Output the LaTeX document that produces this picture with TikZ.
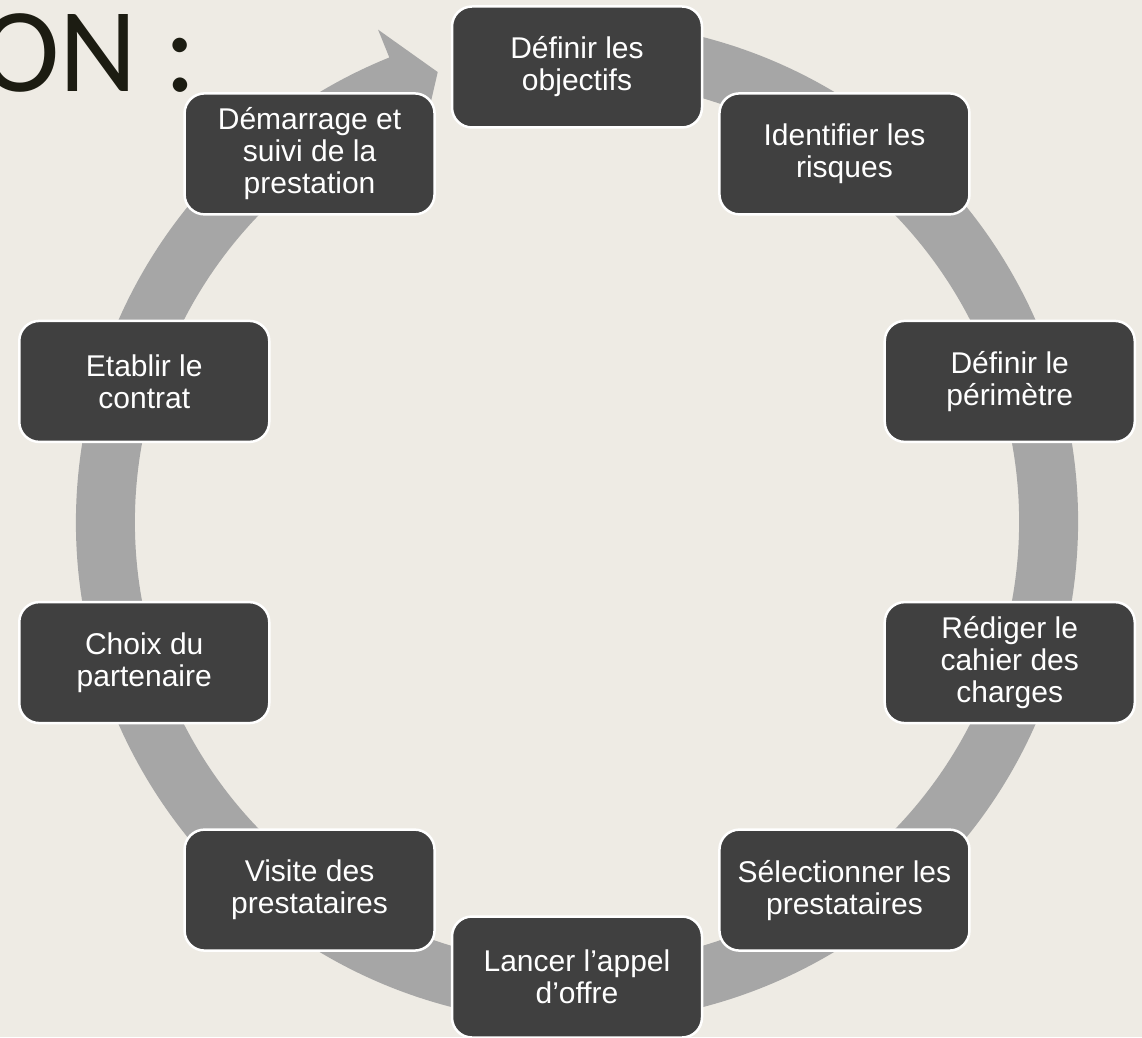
\documentclass[tikz,border=0pt]{standalone}
\usepackage{fontspec}
\setmainfont{Liberation Sans}
\newfontfamily\titlefont{Carlito}
\usepackage{tikz}
\usetikzlibrary{positioning}
\definecolor{slideBg}{HTML}{EEEBE4}
\definecolor{ringGray}{HTML}{A6A6A6}
\definecolor{boxDark}{HTML}{404040}
\definecolor{titleDark}{HTML}{1C1C12}
\tikzset{cycle-node/.style={draw=white, line width=2.5pt, fill=boxDark, text=white,
    rounded corners=20pt, minimum width=250pt, minimum height=121pt,
    align=center, font=\fontsize{30}{32}\selectfont}}
\tikzset{ring-arrow/.style={fill=ringGray}}
\tikzset{title-text/.style={text=titleDark, inner sep=0, font=\titlefont\fontsize{120}{120}\selectfont}}

\begin{document}
\begin{tikzpicture}[x=1pt, y=1pt]
    \useasboundingbox[fill=slideBg] (0,0) rectangle (1142,1037);
    \node[title-text, anchor=base west] (title) at (-20,945) {ON :};

    \begin{scope}[shift={(577,515)}]
        % ring with its head
        \fill[ring-arrow] (80:501) arc[start angle=80, end angle=-248, radius=501]
            -- (-248:531) -- (-252.8:471) -- (-248:413) -- (-248:442)
            arc[start angle=-248, end angle=80, radius=442] -- cycle;

        \foreach \name/\txt [count=\i from 0] in {
            objectifs/{Définir les\\objectifs},
            risques/{Identifier les\\risques},
            perimetre/{Définir le\\périmètre},
            cahier/{Rédiger le\\cahier des\\charges},
            selection/{Sélectionner les\\prestataires},
            appel/{Lancer l’appel\\d’offre},
            visite/{Visite des\\prestataires},
            choix/{Choix du\\partenaire},
            contrat/{Etablir le\\contrat},
            suivi/{Démarrage et\\suivi de la\\prestation}}
            \node[cycle-node] (\name) at ({90-36*\i}:455) {\txt};
    \end{scope}
\end{tikzpicture}
\end{document}
